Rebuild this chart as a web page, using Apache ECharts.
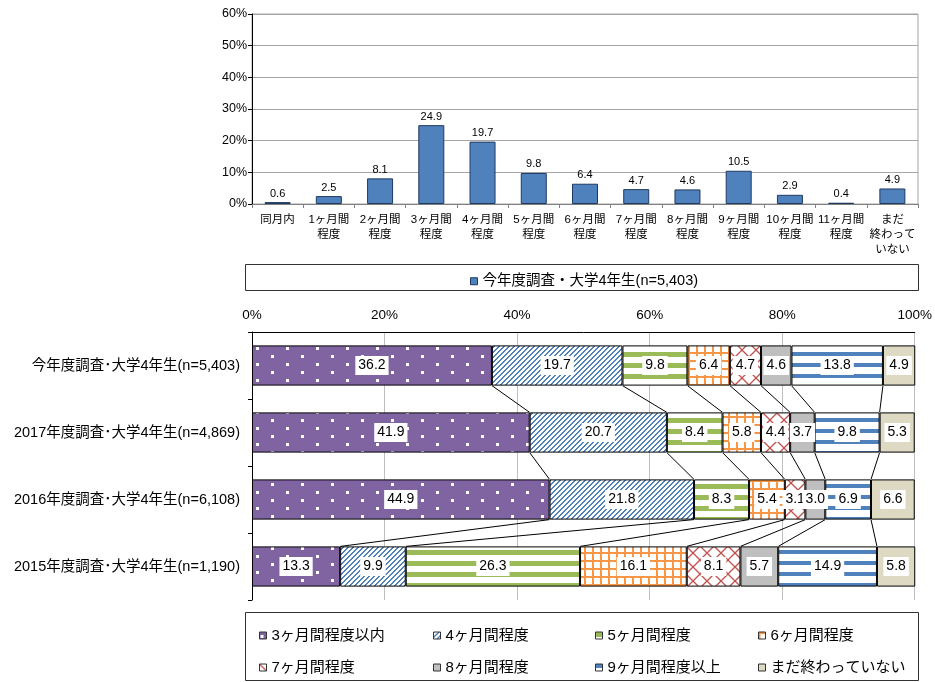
<!DOCTYPE html>
<html>
<head>
<meta charset="utf-8">
<script src="https://cdn.jsdelivr.net/npm/echarts@6/dist/echarts.min.js"></script>
<style>
html,body{margin:0;padding:0;background:#fff;}
#main{width:935px;height:682px;}
</style>
</head>
<body>
<div id="main"></div>
<script>
// top chart: months until job hunting ended
var topCats = ['同月内','1ヶ月間\n程度','2ヶ月間\n程度','3ヶ月間\n程度','4ヶ月間\n程度','5ヶ月間\n程度','6ヶ月間\n程度','7ヶ月間\n程度','8ヶ月間\n程度','9ヶ月間\n程度','10ヶ月間\n程度','11ヶ月間\n程度','まだ\n終わって\nいない'];
var topVals = [0.6, 2.5, 8.1, 24.9, 19.7, 9.8, 6.4, 4.7, 4.6, 10.5, 2.9, 0.4, 4.9];
var topName = '今年度調査・大学4年生(n=5,403)';
var topTicks = [0, 10, 20, 30, 40, 50, 60];

// bottom chart: stacked shares per survey year
var rowNames = ['今年度調査･大学4年生(n=5,403)','2017年度調査･大学4年生(n=4,869)','2016年度調査･大学4年生(n=6,108)','2015年度調査･大学4年生(n=1,190)'];
var segNames = ['3ヶ月間程度以内','4ヶ月間程度','5ヶ月間程度','6ヶ月間程度','7ヶ月間程度','8ヶ月間程度','9ヶ月間程度以上','まだ終わっていない'];
var thisYear = [36.2, 19.7, 9.8, 6.4, 4.7, 4.6, 13.8, 4.9];
var y2017 = [41.9, 20.7, 8.4, 5.8, 4.4, 3.7, 9.8, 5.3];
var y2016 = [44.9, 21.8, 8.3, 5.4, 3.1, 3.0, 6.9, 6.6];
var y2015 = [13.3, 9.9, 26.3, 16.1, 8.1, 5.7, 14.9, 5.8];
var rows = [thisYear, y2017, y2016, y2015];

var FONT = "'Liberation Sans','Noto Sans CJK JP',sans-serif";

function tile(w, h, draw){
    var c = document.createElement('canvas');
    c.width = w; c.height = h;
    var ctx = c.getContext('2d');
    ctx.fillStyle = '#fff';
    ctx.fillRect(0, 0, w, h);
    draw(ctx);
    return {image: c, repeat: 'repeat'};
}

var fills = [
    tile(30, 16, function(ctx){
        ctx.fillStyle = '#8064A2'; ctx.fillRect(0, 0, 30, 16);
        ctx.fillStyle = '#fff';
        ctx.fillRect(1, 3, 3, 3);
        ctx.fillRect(16, 11, 3, 3);
    }),
    tile(5, 5, function(ctx){
        // pixel diagonal, 2px thick
        ctx.fillStyle = '#4F81BD';
        for (var i = 0; i < 5; i++) {
            ctx.fillRect(4 - i, i, 1, 1);
            ctx.fillRect((5 - i) % 5, i, 1, 1);
        }
    }),
    tile(10, 11, function(ctx){
        ctx.fillStyle = '#9BBB59'; ctx.fillRect(0, 0, 10, 5);
    }),
    tile(8, 8, function(ctx){
        ctx.fillStyle = '#F79646';
        ctx.fillRect(0, 0, 8, 2);
        ctx.fillRect(0, 0, 2, 8);
    }),
    tile(14, 14, function(ctx){
        ctx.strokeStyle = '#C0504D'; ctx.lineWidth = 1.3;
        ctx.beginPath();
        ctx.moveTo(0, 0); ctx.lineTo(14, 14);
        ctx.moveTo(14, 0); ctx.lineTo(0, 14);
        ctx.stroke();
    }),
    '#BFBFBF',
    tile(10, 11, function(ctx){
        ctx.fillStyle = '#4F81BD'; ctx.fillRect(0, 0, 10, 4);
    }),
    '#DDD9C3'
];

var series = [];
series.push({
    name: topName,
    type: 'bar',
    xAxisIndex: 0,
    yAxisIndex: 0,
    barWidth: 26,
    data: topVals,
    itemStyle: {color: '#4F81BD', borderColor: '#1F3A60', borderWidth: 1},
    label: {
        show: true, position: 'top', distance: 3,
        fontSize: 11, color: '#000', fontFamily: FONT,
        formatter: function(p){ return p.value.toFixed(1); }
    }
});

segNames.forEach(function(name, k){
    series.push({
        name: name,
        type: 'bar',
        stack: 'share',
        xAxisIndex: 1,
        yAxisIndex: 1,
        barWidth: '60%',
        data: rows.map(function(r){ return r[k]; }),
        itemStyle: {color: fills[k], borderColor: '#000', borderWidth: 1},
        label: {
            show: true, position: 'inside',
            fontSize: 14, color: '#000', fontFamily: FONT,
            backgroundColor: '#fff', padding: [3, 3, 2, 3],
            formatter: function(p){ return p.value.toFixed(1); }
        }
    });
});

// connector lines between stacked bars
series.push({
    type: 'custom',
    xAxisIndex: 1,
    yAxisIndex: 1,
    silent: true,
    z: 3,
    data: [[0, 0], [1, 1], [2, 2]],
    renderItem: function(params, api){
        var i = api.value(0);
        var half = api.size([0, 1])[1] * 0.3;
        var a = 0, b = 0, kids = [];
        for (var k = 0; k < 7; k++) {
            a += rows[i][k];
            b += rows[i + 1][k];
            var p1 = api.coord([a, i]);
            var p2 = api.coord([b, i + 1]);
            kids.push({
                type: 'line',
                shape: {x1: p1[0], y1: p1[1] + half, x2: p2[0], y2: p2[1] - half},
                style: {stroke: '#000', lineWidth: 1}
            });
        }
        return {type: 'group', children: kids};
    }
});

function legendCol(left, names){
    return {
        orient: 'vertical', left: left, top: 622,
        data: names, icon: 'rect', itemWidth: 7, itemHeight: 7,
        itemGap: 15, itemStyle: {borderColor: '#333', borderWidth: 1},
        textStyle: {fontSize: 15, color: '#000', fontFamily: FONT, lineHeight: 17},
        selectedMode: false
    };
}

var option = {
    animation: false,
    backgroundColor: '#fff',
    textStyle: {fontFamily: FONT},
    grid: [
        {left: 252, right: 17, top: 14, height: 190, show: true, borderColor: '#A6A6A6', borderWidth: 1},
        {left: 252, right: 17, top: 332, height: 268}
    ],
    xAxis: [
        {
            type: 'category', gridIndex: 0, data: topCats,
            axisLine: {lineStyle: {color: '#808080'}},
            axisTick: {show: true, length: 4, lineStyle: {color: '#808080'}},
            axisLabel: {interval: 0, fontSize: 11.5, color: '#000', lineHeight: 15, margin: 8, fontFamily: FONT}
        },
        {
            type: 'value', gridIndex: 1, position: 'top', min: 0, max: 100, interval: 20,
            axisLine: {show: true, lineStyle: {color: '#000'}},
            axisTick: {show: false},
            axisLabel: {formatter: '{value}%', fontSize: 13.5, color: '#000', margin: 10, fontFamily: FONT},
            splitLine: {show: true, lineStyle: {color: '#BFBFBF'}}
        }
    ],
    yAxis: [
        {
            type: 'value', gridIndex: 0,
            min: topTicks[0], max: topTicks[topTicks.length - 1], interval: 10,
            axisLine: {show: true, lineStyle: {color: '#000'}},
            axisTick: {show: true, length: 4, lineStyle: {color: '#000'}},
            axisLabel: {formatter: '{value}%', fontSize: 12.5, color: '#000', margin: 5, fontFamily: FONT},
            splitLine: {show: true, lineStyle: {color: '#A6A6A6'}}
        },
        {
            type: 'category', gridIndex: 1, data: rowNames, inverse: true,
            axisLine: {show: true, lineStyle: {color: '#000'}},
            axisTick: {show: true, length: 4, lineStyle: {color: '#000'}},
            axisLabel: {fontSize: 14.5, color: '#000', margin: 12, fontFamily: FONT}
        }
    ],
    legend: [
        {
            left: 465, top: 269, data: [topName], icon: 'rect',
            itemWidth: 7, itemHeight: 7, itemStyle: {borderColor: '#1F3A60', borderWidth: 1},
            textStyle: {fontSize: 14.5, color: '#000', fontFamily: FONT},
            selectedMode: false
        },
        legendCol(254, [segNames[0], segNames[4]]),
        legendCol(428, [segNames[1], segNames[5]]),
        legendCol(590, [segNames[2], segNames[6]]),
        legendCol(753, [segNames[3], segNames[7]])
    ],
    graphic: [
        {type: 'rect', shape: {x: 245.5, y: 264.5, width: 673, height: 26}, style: {fill: null, stroke: '#333', lineWidth: 1}, z: -1},
        {type: 'rect', shape: {x: 245.5, y: 612.5, width: 673, height: 68}, style: {fill: null, stroke: '#333', lineWidth: 1}, z: -1}
    ],
    series: series
};

var chart = echarts.init(document.getElementById('main'));
chart.setOption(option);
</script>
</body>
</html>
